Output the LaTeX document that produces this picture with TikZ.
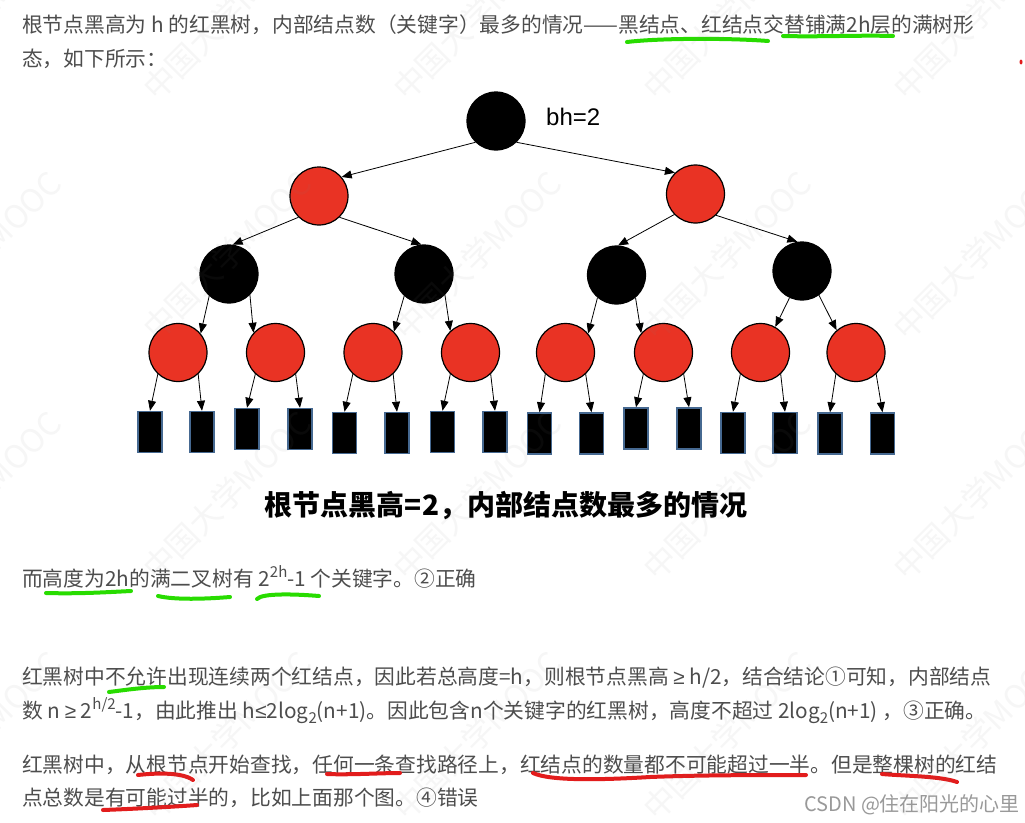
\documentclass[tikz,border=0pt]{standalone}
\usepackage{fontspec}
\setmainfont{Noto Sans CJK SC}
\newfontfamily\latfont{Liberation Sans}
\usetikzlibrary{arrows.meta}
\definecolor{nred}{RGB}{233,51,36}
\definecolor{leafedge}{RGB}{70,105,145}
\definecolor{bodytxt}{RGB}{77,77,77}
\definecolor{hlgreen}{RGB}{40,220,0}
\definecolor{hlred}{RGB}{226,28,28}
\newcommand\upx[1]{\raisebox{0.42em}{\fontsize{15}{15}\selectfont #1}}
\newcommand\dnx[1]{\raisebox{-0.28em}{\fontsize{15}{15}\selectfont #1}}
\newcommand\gesym{{\latfont ≥}}
\newcommand\lesym{{\latfont ≤}}
\tikzset{
  bnode/.style={circle, minimum size=58pt, inner sep=0pt, fill=black, draw=black, line width=1.2pt},
  rnode/.style={circle, minimum size=58pt, inner sep=0pt, fill=nred, draw=black, line width=1.2pt},
  leaf/.style={rectangle, minimum width=24pt, minimum height=41pt, inner sep=0pt, fill=black, draw=leafedge, line width=1.5pt},
  edge/.style={-{Triangle[length=10pt,width=8pt]}, line width=0.8pt, black},
  txt/.style={anchor=base west, inner sep=0pt, text=bodytxt, font=\fontsize{20.75}{25}\selectfont},
  gmark/.style={draw=hlgreen, line width=4pt, line cap=round},
  rmark/.style={draw=hlred, line width=4pt, line cap=round},
  wm/.style={anchor=base west, rotate=45, inner sep=0pt, text=gray, opacity=0.07, font=\fontsize{32}{32}\selectfont}
}
\begin{document}
\begin{tikzpicture}[x=1pt,y=-1pt]
\useasboundingbox (0,0) rectangle (1025,822);
\fill[white] (0,0) rectangle (1025,822);

% ---- text ----
\node[txt] (t1) at (22,32) {根节点黑高为 h 的红黑树，内部结点数（关键字）最多的情况——黑结点、红结点交替铺满2h层的满树形};
\node[txt] (t2) at (22,66) {态，如下所示：};
\node[txt] (t3) at (22,586) {而高度为2h的满二叉树有 2\upx{2h}-1 个关键字。②正确};
\node[txt] (t4) at (22,684) {红黑树中不允许出现连续两个红结点，因此若总高度=h，则根节点黑高 \gesym{} h/2，结合结论①可知，内部结点};
\node[txt] (t5) at (22,718) {数 n \gesym{} 2\upx{h/2}-1，由此推出 h\lesym{}2log\dnx{2}(n+1)。因此包含n个关键字的红黑树，高度不超过 2log\dnx{2}(n+1) ，③正确。};
\node[txt] (t6) at (22,772) {红黑树中，从根节点开始查找，任何一条查找路径上，红结点的数量都不可能超过一半。但是整棵树的红结};
\node[txt] (t7) at (22,805) {点总数是有可能过半的，比如上面那个图。④错误};
\node[anchor=base west, inner sep=0pt, text=black!40, font=\fontsize{20}{20}\selectfont] (csdn) at (804,811) {CSDN @住在阳光的心里};

\node[anchor=base, inner sep=0pt, text=black, font=\bfseries\fontsize{28}{28}\selectfont] (cap) at (506,515) {根节点黑高=2，内部结点数最多的情况};
\node[anchor=base west, inner sep=0pt, text=black, font=\latfont\fontsize{24}{24}\selectfont] (bh) at (546,125) {bh=2};

% ---- tree ----
\node[bnode] (r) at (496,121) {};
\node[rnode] (a1) at (319,196) {};
\node[rnode] (a2) at (695.5,194) {};
\node[bnode] (b1) at (229,274) {};
\node[bnode] (b2) at (424,274) {};
\node[bnode] (b3) at (616.5,275) {};
\node[bnode] (b4) at (802,271) {};
\node[rnode] (c1) at (178,352.5) {};
\node[rnode] (c2) at (275.5,352.5) {};
\node[rnode] (c3) at (373,352.5) {};
\node[rnode] (c4) at (470.5,352.5) {};
\node[rnode] (c5) at (565.5,352.5) {};
\node[rnode] (c6) at (663.5,352.5) {};
\node[rnode] (c7) at (760.5,352.5) {};
\node[rnode] (c8) at (856,352.5) {};

\node[leaf] (l1) at (150,432) {};
\node[leaf] (l2) at (202,432) {};
\node[leaf] (l3) at (247,429) {};
\node[leaf] (l4) at (300,429) {};
\node[leaf] (l5) at (344.5,433) {};
\node[leaf] (l6) at (397,433) {};
\node[leaf] (l7) at (442.5,432) {};
\node[leaf] (l8) at (495,432) {};
\node[leaf] (l9) at (539.5,433.5) {};
\node[leaf] (l10) at (591.5,433.5) {};
\node[leaf] (l11) at (636,428.5) {};
\node[leaf] (l12) at (689,428.5) {};
\node[leaf] (l13) at (733,433) {};
\node[leaf] (l14) at (785,433) {};
\node[leaf] (l15) at (830,433.5) {};
\node[leaf] (l16) at (882.5,433.5) {};

\draw[edge] (r.-134) -- (a1.40);
\draw[edge] (r.-46) -- (a2.134);
\draw[edge] (a1.-134) -- (b1.83);
\draw[edge] (a1.-46) -- (b2.95);
\draw[edge] (a2.-136) -- (b3.87);
\draw[edge] (a2.-46) -- (b4.99);
\draw[edge] (b1.-132) -- (c1.40);
\draw[edge] (b1.-45) -- (c2.138);
\draw[edge] (b2.-132) -- (c3.45);
\draw[edge] (b2.-45) -- (c4.133);
\draw[edge] (b3.-130) -- (c5.40);
\draw[edge] (b3.-50) -- (c6.139);
\draw[edge] (b4.-115) -- (c7.60);
\draw[edge] (b4.-55) -- (c8.131);
\foreach \c/\la/\lb in {1/1/2, 2/3/4, 3/5/6, 4/7/8, 5/9/10, 6/11/12, 7/13/14, 8/15/16}{
  \draw[edge] (c\c.-133) -- (l\la.north);
  \draw[edge] (c\c.-47) -- (l\lb.north);
}

% ---- highlight marks ----
\draw[gmark] (627,42) .. controls (660,38) and (730,38) .. (768,41);
\draw[gmark] (783,36) .. controls (820,37) and (860,35) .. (893,36);
\draw[gmark] (46,593) .. controls (80,594) and (110,592) .. (131,591);
\draw[gmark] (158,596) .. controls (175,600) and (205,599) .. (230,597);
\draw[gmark] (257,599) .. controls (262,593) and (295,594) .. (319,596);
\draw[gmark] (109,692) .. controls (125,690) and (145,687) .. (164,687);
\draw[rmark] (138,775) .. controls (155,773) and (182,772) .. (193,780);
\draw[rmark] (327,774) .. controls (350,775) and (380,773) .. (400,773);
\draw[rmark] (533,773) .. controls (550,781) and (600,780) .. (650,777) .. controls (700,775) and (760,775) .. (806,775);
\draw[rmark] (882,774) .. controls (905,776) and (940,776) .. (957,782);
\draw[rmark] (103,810) .. controls (130,809) and (170,807) .. (197,805);
\fill[hlred] (1021,62) ellipse (1.5 and 2.5);

% ---- watermark ----
\foreach \i in {-1,...,3}{
  \foreach \j in {0,...,3}{
    \node[wm] (wm\i\j) at (157+250*\i, 103+240*\j) {中国大学MOOC};
  }
}
\end{tikzpicture}
\end{document}
